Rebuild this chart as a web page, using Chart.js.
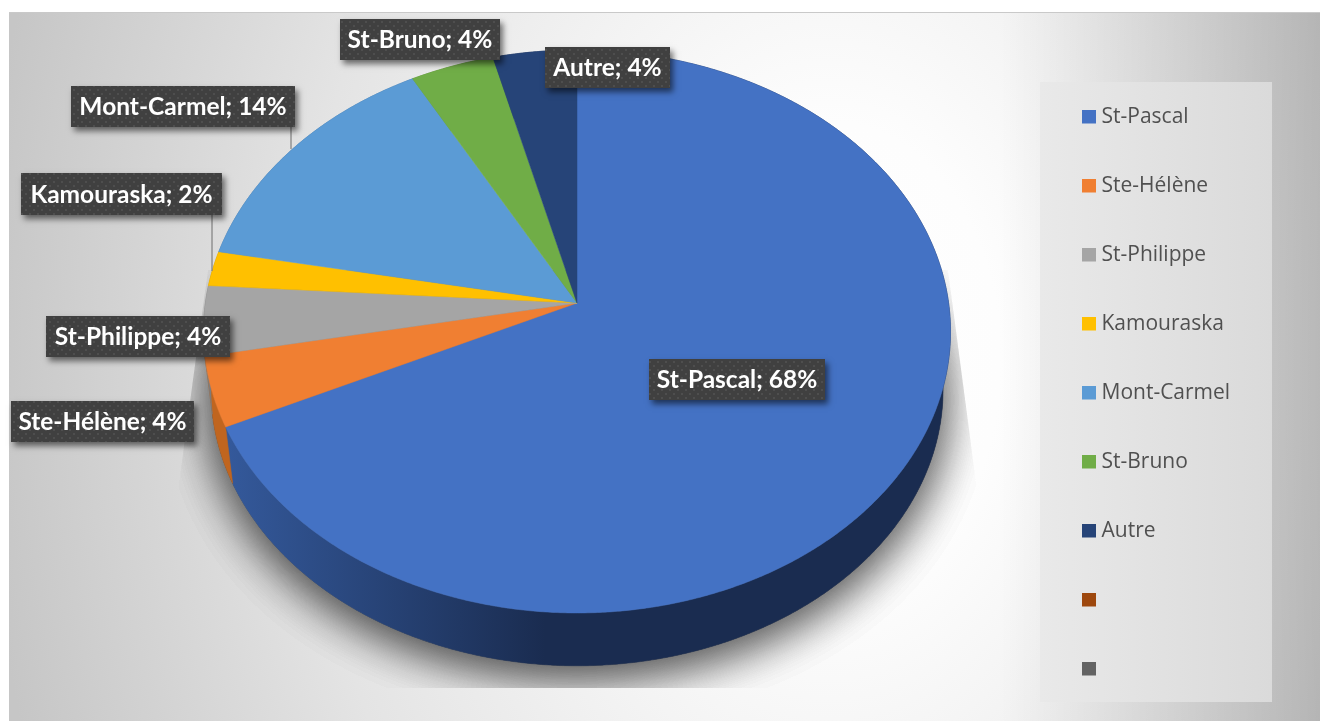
<!DOCTYPE html>
<html><head><meta charset="utf-8">
<style>html,body{margin:0;padding:0;background:#fff;overflow:hidden}#w{position:absolute;left:0;top:0;width:1320px;height:721px}</style>
<script src="https://cdn.jsdelivr.net/npm/chart.js@4"></script></head>
<body><div id="w"><canvas id="c" width="1320" height="721"></canvas></div>
<script>
const categories = ['St-Pascal','Ste-Hélène','St-Philippe','Kamouraska','Mont-Carmel','St-Bruno','Autre','',''];
const shares = [68,4,4,2,14,4,4,0,0];
const colors = ['#4472C4','#F07F32','#A5A5A5','#FFC000','#5B9BD5','#70AD47','#264478','#9E480E','#636363'];
const sideColors = ['#1A2C50','#C0651F','#7C7C7C','#BF9000','#4474A0','#548235','#1A2F54','#772F08','#4A4A4A'];
const labelBoxes = [[649,359,176,41],[11,401,183,41],[46,316,184,41],[21,173,201,42],[71,86,224,41],[340,19,160,41],[545,47,125,41]];
const leaders = [[291,127,291,149],[212,215,212,271]];

const CX=577,CY=303,A=371.6,B=278.6,K=0.1012,S=0.98,DY=59;
function proj(a,bottom){
  const u=Math.cos(a),v=Math.sin(a),w=1-K*v;
  let x=A*u/w,y=B*v/w;
  if(bottom){x*=S;y=y*S+DY;}
  return [CX+x,CY+y];
}
function rimPts(a0,a1,bottom){
  const n=Math.max(2,Math.ceil((a1-a0)/0.006)),p=[];
  for(let i=0;i<=n;i++)p.push(proj(a0+(a1-a0)*i/n,bottom));
  return p;
}
function poly(ctx,p){ctx.beginPath();p.forEach((q,i)=>i?ctx.lineTo(q[0],q[1]):ctx.moveTo(q[0],q[1]));ctx.closePath();}

const background={id:'background',beforeDraw(chart){
  const ctx=chart.ctx;ctx.save();
  ctx.fillStyle='#fff';ctx.fillRect(0,0,1320,721);
  ctx.fillStyle='#c9c9c9';ctx.fillRect(9,12,1311,1);
  ctx.beginPath();ctx.rect(9,13,1311,708);ctx.clip();
  ctx.save();ctx.translate(830,360);ctx.scale(1,1.4);
  const g=ctx.createRadialGradient(0,0,0,0,0,850);
  g.addColorStop(0,'#ffffff');g.addColorStop(.2,'#fdfdfd');g.addColorStop(.62,'#e4e4e4');g.addColorStop(1,'#c6c6c6');
  ctx.fillStyle=g;ctx.fillRect(-900,-400,1500,800);ctx.restore();
  const r=ctx.createLinearGradient(1000,0,1320,0);
  r.addColorStop(0,'rgba(0,0,0,0)');r.addColorStop(1,'rgba(0,0,0,.2)');
  ctx.fillStyle=r;ctx.fillRect(1000,13,320,708);
  const l=ctx.createLinearGradient(1040,0,1272,0);
  l.addColorStop(0,'#e9e9e9');l.addColorStop(1,'#dadada');
  ctx.fillStyle=l;ctx.fillRect(1040,82,232,620);
  ctx.restore();
}};

const pie3d={id:'pie3d',beforeDatasetsDraw(chart){
  const ctx=chart.ctx,arcs=chart.getDatasetMeta(0).data;
  ctx.save();
  ctx.save();
  poly(ctx,[[208,270],[178,490],[178,688],[977,688],[977,490],[948,270]]);ctx.clip();
  ctx.shadowColor='rgba(0,0,0,.32)';ctx.shadowBlur=46;ctx.shadowOffsetY=10;
  ctx.fillStyle='#666';poly(ctx,rimPts(0,Math.PI*2,true));ctx.fill();ctx.fill();ctx.fill();
  ctx.restore();
  arcs.forEach((el,i)=>{
    const {startAngle:a0,endAngle:a1}=el.getProps(['startAngle','endAngle'],true);
    if(a1-a0<=0)return;
    const top=rimPts(a0,a1,false),bot=rimPts(a0,a1,true).reverse();
    let fill=sideColors[i];
    if(i===0){const g=ctx.createLinearGradient(226,0,545,0);g.addColorStop(0,'#34599B');g.addColorStop(1,'#1A2C50');fill=g;}
    ctx.fillStyle=fill;ctx.strokeStyle=fill;ctx.lineWidth=.5;
    poly(ctx,top.concat(bot));ctx.fill();ctx.stroke();
  });
  arcs.forEach((el,i)=>{
    const {startAngle:a0,endAngle:a1}=el.getProps(['startAngle','endAngle'],true);
    if(a1-a0<=0)return;
    ctx.fillStyle=colors[i];ctx.strokeStyle=colors[i];ctx.lineWidth=.5;
    poly(ctx,[[CX,CY]].concat(rimPts(a0,a1,false)));ctx.fill();ctx.stroke();
  });
  ctx.restore();
  return false;
},afterDraw(chart){
  const ctx=chart.ctx;ctx.save();
  ctx.strokeStyle='#7f7f7f';ctx.lineWidth=1.2;
  leaders.forEach(l=>{ctx.beginPath();ctx.moveTo(l[0],l[1]);ctx.lineTo(l[2],l[3]);ctx.stroke();});
  const pc=document.createElement('canvas');pc.width=pc.height=8;
  const px=pc.getContext('2d');px.fillStyle='#404040';px.fillRect(0,0,8,8);px.fillStyle='#4e4e4e';px.fillRect(1,1,2,2);px.fillRect(5,5,2,2);
  const pat=ctx.createPattern(pc,'repeat');
  labelBoxes.forEach((b,i)=>{
    ctx.save();ctx.shadowColor='rgba(0,0,0,.55)';ctx.shadowBlur=6;ctx.shadowOffsetX=3;ctx.shadowOffsetY=4;
    ctx.fillStyle='#404040';ctx.fillRect(b[0],b[1],b[2],b[3]);ctx.restore();
    ctx.fillStyle=pat;ctx.fillRect(b[0],b[1],b[2],b[3]);
    ctx.fillStyle='#fff';ctx.font='bold 24.5px Lato';ctx.textAlign='center';ctx.textBaseline='middle';
    ctx.fillText(categories[i]+'; '+shares[i]+'%',b[0]+b[2]/2,b[1]+b[3]/2+1,b[2]-15);
  });
  ctx.restore();
}};

const placeLegend={id:'placeLegend',afterLayout(chart){const L=chart.legend;L.left=1039;L.top=59;L.right=1320;L.bottom=800;}};
function swatch(c){const s=document.createElement('canvas');s.width=14;s.height=16;const x=s.getContext('2d');x.fillStyle=c;x.fillRect(0,0,14,14);return s;}

new Chart(document.getElementById('c'),{
  type:'pie',
  data:{labels:categories,datasets:[{data:shares,backgroundColor:colors,borderWidth:0}]},
  options:{
    responsive:false,animation:false,
    layout:{padding:0},
    plugins:{
      tooltip:{enabled:false},
      legend:{position:'right',align:'start',
        labels:{usePointStyle:true,pointStyleWidth:4,boxHeight:14,padding:48,color:'#505050',
          font:{family:'Open Sans',size:21},
          generateLabels(c){return categories.map((t,i)=>({text:t,fontColor:'#505050',pointStyle:swatch(colors[i]),fillStyle:colors[i],strokeStyle:colors[i],lineWidth:0,hidden:false,index:i}));}
        }
      }
    }
  },
  plugins:[background,pie3d,placeLegend]
});
</script></body></html>
